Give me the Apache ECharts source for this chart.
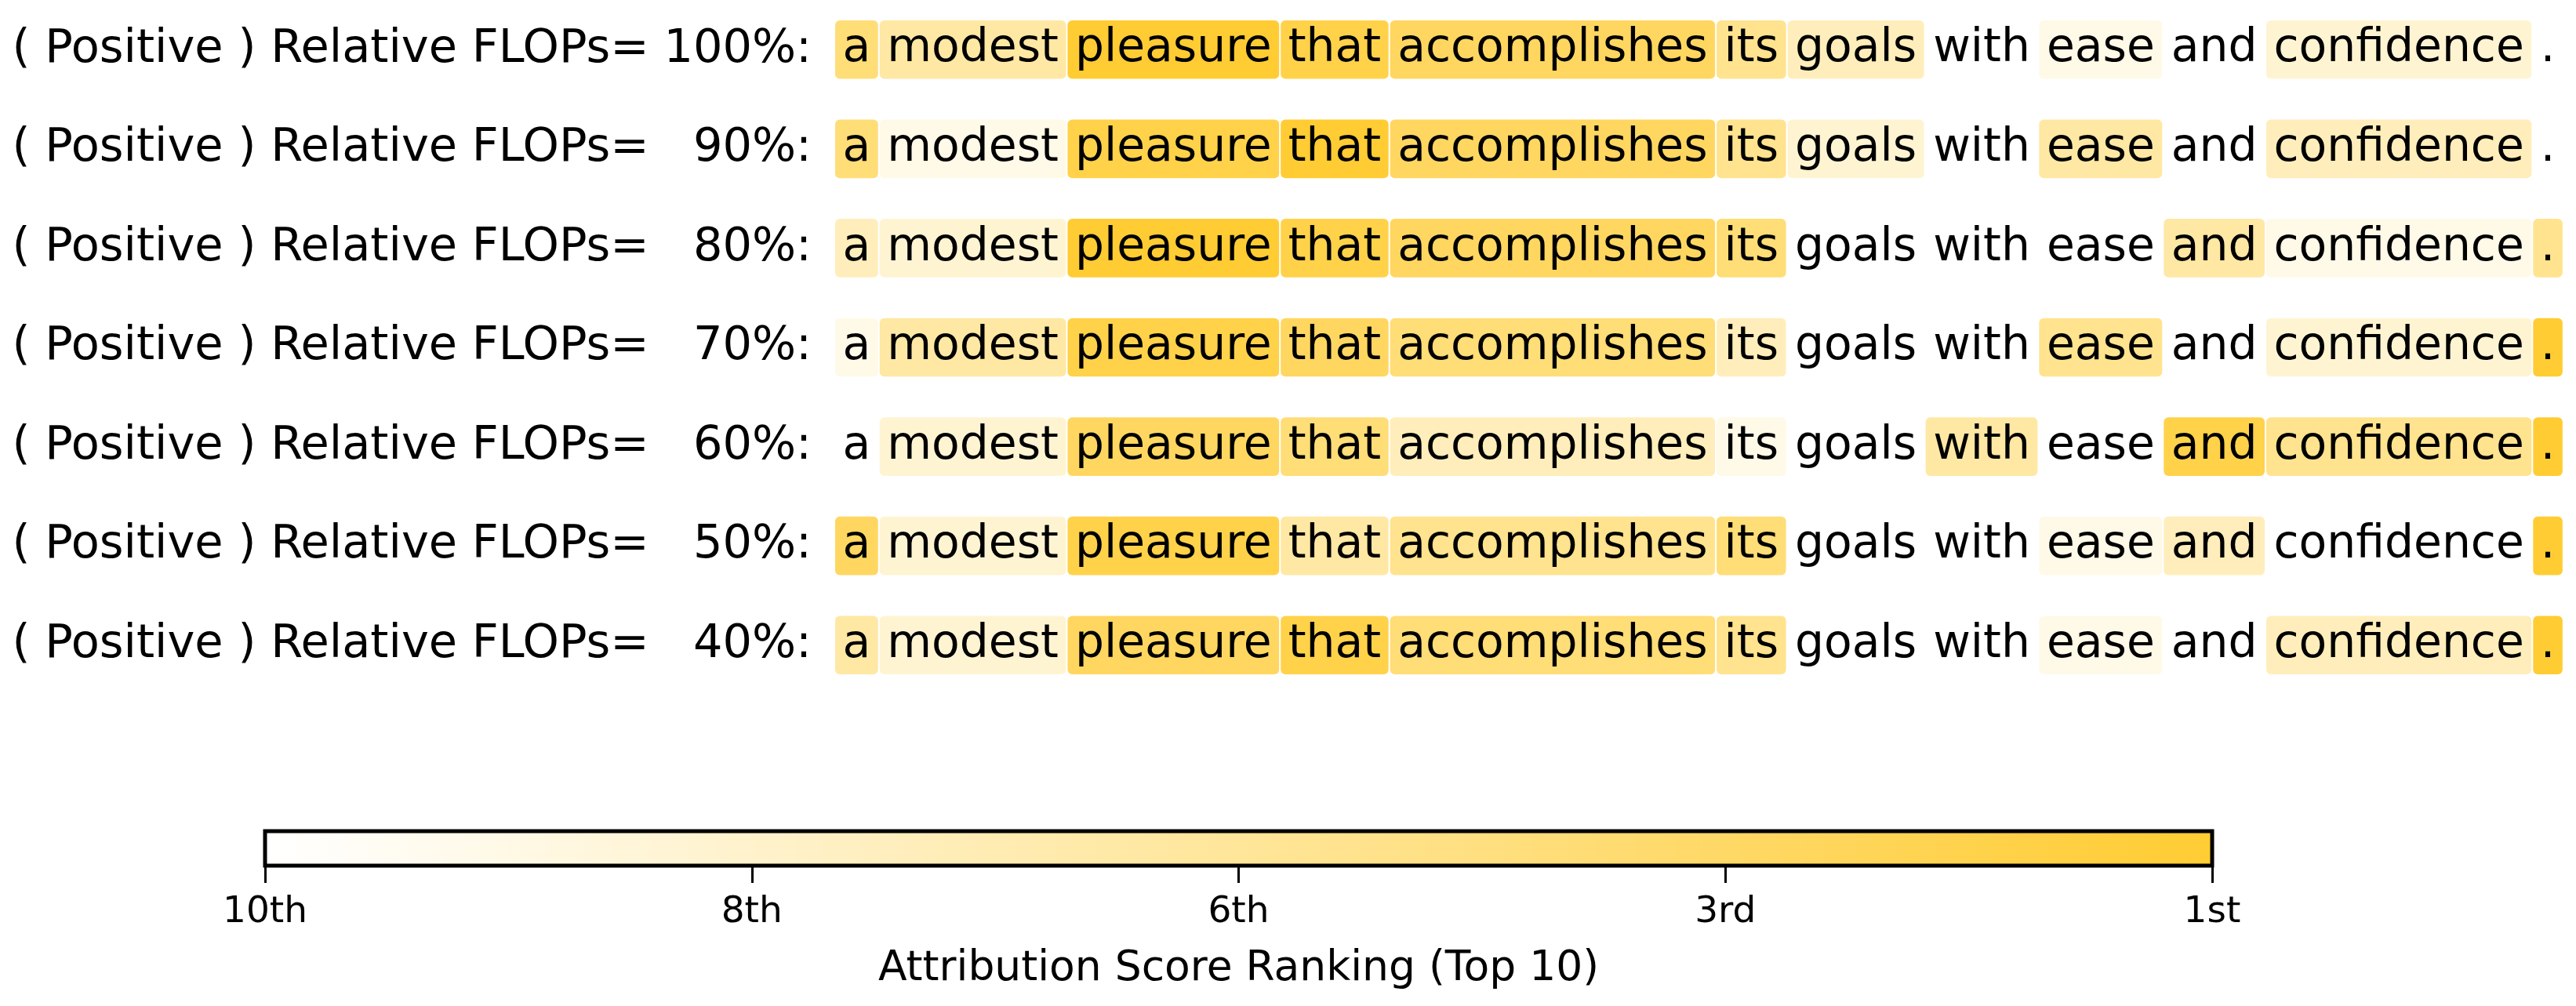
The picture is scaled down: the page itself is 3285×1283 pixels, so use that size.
<!DOCTYPE html>
<html>
<head>
<meta charset="utf-8">
<title>Attribution score ranking</title>
<script src="https://cdn.jsdelivr.net/npm/echarts@6/dist/echarts.min.js"></script>
<style>
  html, body { margin: 0; padding: 0; background: #fff; }
  #chart { width: 3285px; height: 1283px; }
</style>
</head>
<body>
<div id="chart"></div>
<script>
const WORDS = ['a', 'modest', 'pleasure', 'that', 'accomplishes', 'its', 'goals', 'with', 'ease', 'and', 'confidence', '.'];
const FLOPS = [100, 90, 80, 70, 60, 50, 40];
// rank of each word among the top 10 attributions, null = not in the top 10
const RANKS = [
  [4, 6, 1, 2, 3, 5, 7, null, 9, null, 8, null],
  [4, 9, 2, 1, 3, 5, 8, null, 6, null, 7, null],
  [7, 8, 1, 2, 3, 4, null, null, null, 6, 9, 5],
  [9, 6, 2, 3, 4, 7, null, null, 5, null, 8, 1],
  [null, 8, 3, 4, 7, 9, null, 6, null, 2, 5, 1],
  [3, 8, 2, 6, 5, 4, null, null, 9, 7, null, 1],
  [6, 8, 3, 2, 4, 5, null, null, 9, null, 7, 1]
];
const TOP_K = 10;
const TICK_LABELS = ['10th', '8th', '6th', '3rd', '1st'];
const COLORS = ['#ffffff', '#ffcc33'];

const FONT = 'DejaVu Sans';
const WORD_SIZE = 58.33;
const PAD = 9.5;
const GAP = 2;
const WORD_AREA = 2210;

// word boxes are laid out from the measured text widths
const ctx = document.createElement('canvas').getContext('2d');
ctx.font = WORD_SIZE + 'px "' + FONT + '"';
const boxes = [];
let cursor = 0;
WORDS.forEach(function (w) {
  const width = ctx.measureText(w).width + 2 * PAD;
  boxes.push([cursor, width]);
  cursor += width + GAP;
});

const cells = [];
RANKS.forEach(function (row, r) {
  row.forEach(function (rank, i) {
    const score = rank == null ? -1 : (TOP_K - rank) / (TOP_K - 1);
    cells.push([boxes[i][0], r, boxes[i][1], score, i]);
  });
});

function rowLabel(f) {
  return '( Positive ) Relative FLOPs= ' + '  '.repeat(3 - String(f).length) + f + '%:';
}

function renderWord(params, api) {
  const x0 = api.value(0);
  const w = api.value(2);
  const row = api.value(1);
  const start = api.coord([x0, row]);
  const end = api.coord([x0 + w, row]);
  const h = api.size([0, 1])[1] * 0.59;
  const children = [];
  if (api.value(3) >= 0) {
    children.push({
      type: 'rect',
      shape: { x: start[0], y: start[1] - h / 2, width: end[0] - start[0], height: h, r: 6 },
      style: { fill: api.visual('color') }
    });
  }
  children.push({
    type: 'text',
    x: (start[0] + end[0]) / 2,
    y: start[1],
    style: {
      text: WORDS[api.value(4)],
      fill: '#000',
      fontSize: WORD_SIZE,
      fontFamily: FONT,
      align: 'center',
      verticalAlign: 'middle'
    }
  });
  return { type: 'group', children: children };
}

// colour bar: one rect spanning the value axis, filled with the same colour ramp
function renderBar(params, api) {
  const start = api.coord([api.value(0), 0]);
  const end = api.coord([api.value(1), 0]);
  const h = api.size([0, 1])[1];
  return {
    type: 'rect',
    shape: { x: start[0], y: start[1] - h / 2, width: end[0] - start[0], height: h },
    style: {
      fill: new echarts.graphic.LinearGradient(0, 0, 1, 0, COLORS.map(function (c, i) {
        return { offset: i / (COLORS.length - 1), color: c };
      })),
      stroke: '#000',
      lineWidth: 5
    }
  };
}

const option = {
  animation: false,
  backgroundColor: '#fff',
  textStyle: { fontFamily: FONT },
  visualMap: {
    type: 'continuous',
    show: false,
    seriesIndex: 0,
    dimension: 3,
    min: 0,
    max: 1,
    inRange: { color: COLORS },
    outOfRange: { color: 'rgba(0,0,0,0)' }
  },
  grid: [
    { left: 1065, width: WORD_AREA, top: -2, height: 888 },
    { left: 338, right: 464, top: 1060, height: 44 }
  ],
  xAxis: [
    { gridIndex: 0, type: 'value', min: 0, max: WORD_AREA, show: false },
    {
      gridIndex: 1,
      type: 'value',
      min: 0,
      max: 1,
      interval: 1 / (TICK_LABELS.length - 1),
      splitLine: { show: false },
      axisLine: { show: false },
      axisTick: { show: true, length: 22, lineStyle: { color: '#000', width: 3 } },
      axisLabel: {
        color: '#000',
        fontSize: 47,
        fontFamily: FONT,
        margin: 36,
        formatter: function (v) {
          return TICK_LABELS[Math.round(v * (TICK_LABELS.length - 1))];
        }
      },
      name: 'Attribution Score Ranking (Top 10)',
      nameLocation: 'middle',
      nameGap: 105,
      nameTextStyle: { color: '#000', fontSize: 53.5, fontFamily: FONT }
    }
  ],
  yAxis: [
    {
      gridIndex: 0,
      type: 'category',
      inverse: true,
      data: FLOPS.map(rowLabel),
      axisLine: { show: false },
      axisTick: { show: false },
      splitLine: { show: false },
      axisLabel: { color: '#000', fontSize: 59, fontFamily: FONT, margin: 30 }
    },
    { gridIndex: 1, type: 'category', data: [''], show: false }
  ],
  series: [
    {
      type: 'custom',
      xAxisIndex: 0,
      yAxisIndex: 0,
      encode: { x: 0, y: 1 },
      clip: false,
      renderItem: renderWord,
      data: cells
    },
    {
      type: 'custom',
      xAxisIndex: 1,
      yAxisIndex: 1,
      silent: true,
      clip: false,
      renderItem: renderBar,
      data: [[0, 1]]
    }
  ]
};

const chart = echarts.init(document.getElementById('chart'));
chart.setOption(option);
window.addEventListener('resize', function () {
  chart.resize();
});
</script>
</body>
</html>
